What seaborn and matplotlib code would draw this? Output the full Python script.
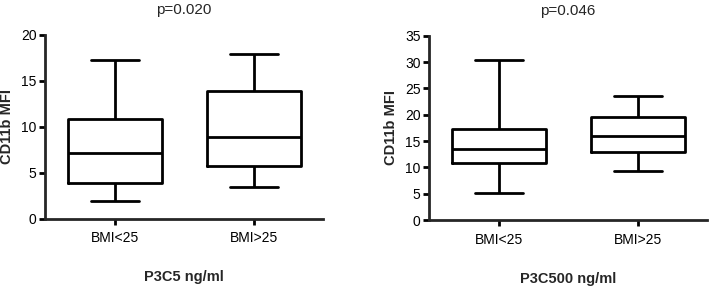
import pandas as pd
import seaborn as sns
import matplotlib.pyplot as plt

groups = ["BMI<25", "BMI>25"]
# five-number summaries (min, q1, median, q3, max)
p3c5_lo = [2.0, 3.95, 7.15, 10.9, 17.25]
p3c5_hi = [3.5, 5.8, 8.9, 13.9, 17.95]
p3c500_lo = [5.1, 10.9, 13.55, 17.35, 30.4]
p3c500_hi = [9.3, 12.95, 16.0, 19.55, 23.6]

titles = ["p=0.020", "p=0.046"]
xlabels = ["P3C5 ng/ml", "P3C500 ng/ml"]
ymax = [20, 35]

sns.set_style("ticks")
plt.rcParams['font.family'] = ['Liberation Sans', 'DejaVu Sans']

fig = plt.figure(figsize=(7.11, 2.88), dpi=100)
ax1 = fig.add_axes([0.0633, 0.2396, 0.391, 0.639])
ax2 = fig.add_axes([0.6034, 0.2361, 0.391, 0.640])

panels = [(ax1, p3c5_lo, p3c5_hi), (ax2, p3c500_lo, p3c500_hi)]
lw = 2.0
for i, (ax, lo, hi) in enumerate(panels):
    df = pd.DataFrame({"group": [groups[0]] * 5 + [groups[1]] * 5,
                       "MFI": lo + hi})
    sns.boxplot(data=df, x="group", y="MFI", ax=ax, whis=(0, 100),
                width=0.68, fill=False, color="black", linewidth=lw,
                showfliers=False,
                medianprops=dict(linewidth=lw, color="black"))
    ax.set_xlim(-0.504, 1.496)
    ax.set_ylim(0, ymax[i])
    ax.set_yticks(range(0, ymax[i] + 1, 5))
    sns.despine(ax=ax)
    for s in ["left", "bottom"]:
        ax.spines[s].set_linewidth(lw)
    ax.tick_params(axis="both", width=lw, length=4, labelsize=10, colors="black", pad=2)
    ax.tick_params(axis="x", pad=5)
    ax.set_ylabel("CD11b MFI", fontsize=10.5, fontweight="bold", labelpad=5)
    ax.set_xlabel(xlabels[i], fontsize=10.5, fontweight="bold", labelpad=18)
    ax.set_title(titles[i], fontsize=11, pad=15)

fig.savefig("out.png", dpi=100)
